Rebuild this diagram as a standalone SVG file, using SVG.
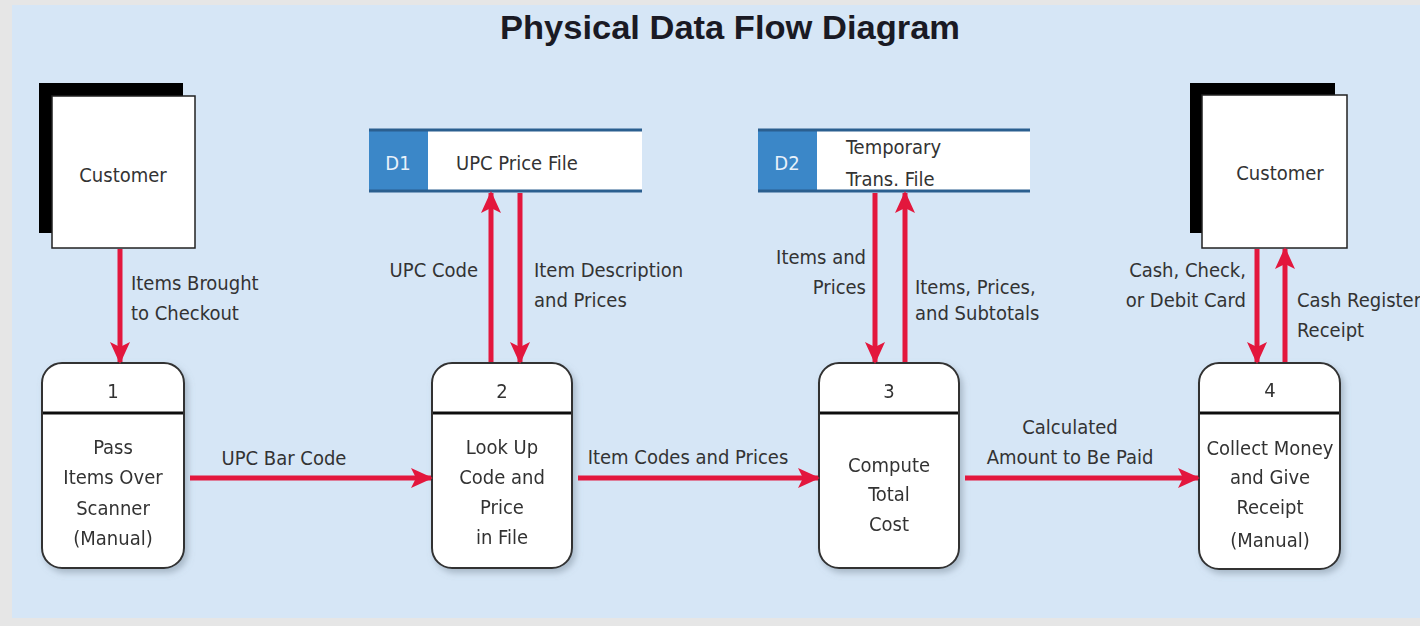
<svg xmlns="http://www.w3.org/2000/svg" width="1420" height="626" viewBox="0 0 1420 626">
<defs>
<style>
.t{font-family:"DejaVu Sans Condensed","Liberation Sans",Arial,sans-serif;font-stretch:condensed;font-size:20px;fill:#333;}
.m{text-anchor:middle;}
.e{text-anchor:end;}
.title{font-family:"Liberation Sans",Arial,sans-serif;font-size:33px;font-weight:bold;fill:#1a1a24;text-anchor:middle;}
.proc{fill:#fff;stroke:#333;stroke-width:2;}
.div{stroke:#111;stroke-width:3;}
.flow{stroke:#e3173d;stroke-width:5;fill:none;marker-end:url(#ah);}
.ent{fill:#fff;stroke:#222;stroke-width:1.5;}
.shadow{fill:#000;}
.dsw{fill:#fff;}
.dsb{fill:#3b87c8;}
.dsl{stroke:#2b5f8f;stroke-width:3;}
.dsid{font-family:"DejaVu Sans Condensed","Liberation Sans",Arial,sans-serif;font-stretch:condensed;font-size:20px;fill:#e8f1fa;text-anchor:middle;}
</style>
<marker id="ah" markerUnits="userSpaceOnUse" markerWidth="22" markerHeight="20" refX="20" refY="10" orient="auto">
<path d="M0,0 L22,10 L0,20 L5,10 Z" fill="#e3173d"/>
</marker>
<filter id="sh" x="-10%" y="-10%" width="130%" height="130%">
<feDropShadow dx="3" dy="4" stdDeviation="3" flood-color="#7a8a99" flood-opacity="0.5"/>
</filter>
</defs>
<rect x="0" y="0" width="1420" height="626" fill="#e6e6e6"/>
<rect x="12" y="5" width="1408" height="613" fill="#d6e6f6"/>
<text class="title" x="730" y="39" textLength="460" lengthAdjust="spacingAndGlyphs">Physical Data Flow Diagram</text>

<g id="customer-left">
<rect class="shadow" x="39" y="83" width="144" height="150"/>
<rect class="ent" x="52" y="96" width="143" height="152"/>
<text class="t m" x="123" y="182">Customer</text>
</g>

<g id="customer-right">
<rect class="shadow" x="1190" y="83" width="145" height="150"/>
<rect class="ent" x="1202" y="95" width="145" height="153"/>
<text class="t m" x="1280" y="180">Customer</text>
</g>

<g id="d1">
<rect class="dsw" x="369" y="130" width="273" height="61"/>
<rect class="dsb" x="369" y="130" width="59" height="61"/>
<line class="dsl" x1="369" y1="130" x2="642" y2="130"/>
<line class="dsl" x1="369" y1="191" x2="642" y2="191"/>
<text class="dsid" x="398" y="170">D1</text>
<text class="t" x="456" y="170">UPC Price File</text>
</g>

<g id="d2">
<rect class="dsw" x="758" y="130" width="272" height="61"/>
<rect class="dsb" x="758" y="130" width="59" height="61"/>
<line class="dsl" x1="758" y1="130" x2="1030" y2="130"/>
<line class="dsl" x1="758" y1="191" x2="1030" y2="191"/>
<text class="dsid" x="787" y="170">D2</text>
<text class="t" x="846" y="154">Temporary</text>
<text class="t" x="846" y="186">Trans. File</text>
</g>

<g id="p1" filter="url(#sh)">
<rect class="proc" x="42" y="363" width="142" height="205" rx="20"/>
<line class="div" x1="43" y1="413" x2="183" y2="413"/>
<text class="t m" x="113" y="398">1</text>
<text class="t m" x="113" y="454">Pass</text>
<text class="t m" x="113" y="484">Items Over</text>
<text class="t m" x="113" y="515">Scanner</text>
<text class="t m" x="113" y="545">(Manual)</text>
</g>

<g id="p2" filter="url(#sh)">
<rect class="proc" x="432" y="363" width="140" height="205" rx="20"/>
<line class="div" x1="433" y1="413" x2="571" y2="413"/>
<text class="t m" x="502" y="398">2</text>
<text class="t m" x="502" y="454">Look Up</text>
<text class="t m" x="502" y="484">Code and</text>
<text class="t m" x="502" y="514">Price</text>
<text class="t m" x="502" y="544">in File</text>
</g>

<g id="p3" filter="url(#sh)">
<rect class="proc" x="819" y="363" width="140" height="205" rx="20"/>
<line class="div" x1="820" y1="413" x2="958" y2="413"/>
<text class="t m" x="889" y="398">3</text>
<text class="t m" x="889" y="472">Compute</text>
<text class="t m" x="889" y="501">Total</text>
<text class="t m" x="889" y="531">Cost</text>
</g>

<g id="p4" filter="url(#sh)">
<rect class="proc" x="1199" y="363" width="141" height="206" rx="20"/>
<line class="div" x1="1200" y1="413" x2="1339" y2="413"/>
<text class="t m" x="1270" y="397">4</text>
<text class="t m" x="1270" y="455">Collect Money</text>
<text class="t m" x="1270" y="484">and Give</text>
<text class="t m" x="1270" y="514">Receipt</text>
<text class="t m" x="1270" y="547">(Manual)</text>
</g>

<g id="connectors">
<line class="flow" x1="120" y1="249" x2="120" y2="362"/>
<line class="flow" x1="190" y1="478" x2="431" y2="478"/>
<line class="flow" x1="578" y1="478" x2="818" y2="478"/>
<line class="flow" x1="965" y1="478" x2="1198" y2="478"/>
<line class="flow" x1="491" y1="362" x2="491" y2="193"/>
<line class="flow" x1="520" y1="193" x2="520" y2="362"/>
<line class="flow" x1="875" y1="193" x2="875" y2="362"/>
<line class="flow" x1="905" y1="362" x2="905" y2="193"/>
<line class="flow" x1="1257" y1="249" x2="1257" y2="362"/>
<line class="flow" x1="1285" y1="362" x2="1285" y2="249"/>
</g>

<g id="labels">
<text class="t" x="131" y="290">Items Brought</text>
<text class="t" x="131" y="320">to Checkout</text>
<text class="t m" x="284" y="465">UPC Bar Code</text>
<text class="t e" x="478" y="277">UPC Code</text>
<text class="t" x="534" y="277">Item Description</text>
<text class="t" x="534" y="307">and Prices</text>
<text class="t m" x="688" y="464">Item Codes and Prices</text>
<text class="t e" x="866" y="264">Items and</text>
<text class="t e" x="866" y="294">Prices</text>
<text class="t" x="915" y="294">Items, Prices,</text>
<text class="t" x="915" y="320">and Subtotals</text>
<text class="t m" x="1070" y="434">Calculated</text>
<text class="t m" x="1070" y="464">Amount to Be Paid</text>
<text class="t e" x="1246" y="277">Cash, Check,</text>
<text class="t e" x="1246" y="307">or Debit Card</text>
<text class="t" x="1297" y="307">Cash Register</text>
<text class="t" x="1297" y="337">Receipt</text>
</g>
</svg>
